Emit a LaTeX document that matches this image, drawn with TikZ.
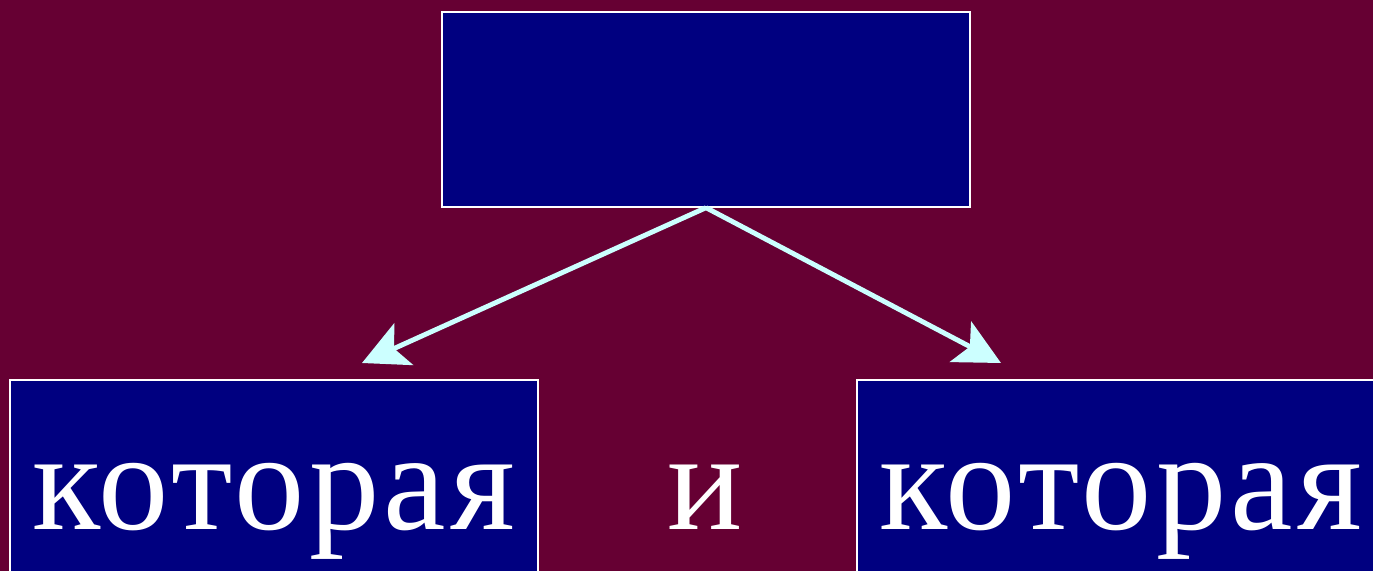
\documentclass[tikz,border=0pt]{standalone}
\usepackage{fontspec}
\setmainfont[LetterSpace=3]{Liberation Serif}
\usetikzlibrary{arrows.meta}
\definecolor{slidebg}{HTML}{660033}
\definecolor{boxblue}{HTML}{000080}
\definecolor{arrowcyan}{HTML}{CCFFFF}
\tikzstyle{wordbox} = [draw=white, line width=0.8pt, fill=boxblue, text=white, rectangle, inner sep=0pt, anchor=base, minimum width=10.56cm, text height=2.98cm, text depth=1.4cm]
\tikzstyle{word} = [text=white, inner sep=0pt, anchor=base]
\tikzstyle{link} = [draw=arrowcyan, line width=2.8pt, -{Stealth[length=26pt, width=26pt, inset=6pt]}]

\begin{document}
\begin{tikzpicture}[x=0.02cm, y=-0.02cm, font=\fontsize{80}{88}\selectfont]
		\useasboundingbox (0,0) rectangle (1373,571);
		\fill [slidebg] (0,0) rectangle (1373,571);
		\clip (0,0) rectangle (1373,571);

		\node [draw=white, line width=0.8pt, fill=boxblue, minimum width=10.56cm, minimum height=3.9cm] (top) at (706,109.5) {};
		\node [wordbox] (left) at (274,529) {которая};
		\node [word] (and) at (705,529) {и};
		\node [wordbox] (right) at (1121,529) {которая};
		\coordinate (lefttip) at (362,363);
		\coordinate (righttip) at (1001,363);

		\draw [link] (top.south) -- (lefttip);
		\draw [link] (top.south) -- (righttip);
	\end{tikzpicture}
\end{document}
